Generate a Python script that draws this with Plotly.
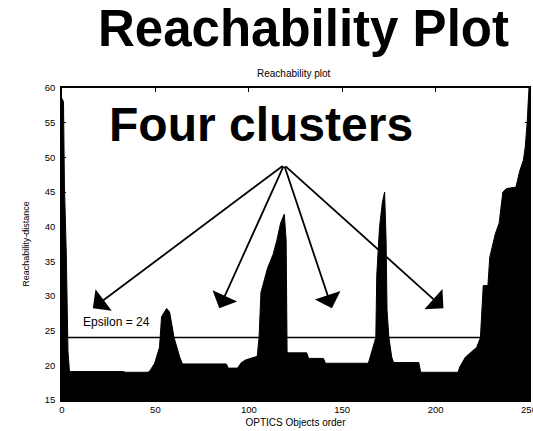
import plotly.graph_objects as go

# OPTICS ordering breakpoints (object order) and reachability distance
order = [0, 0.8, 1.3, 2.3, 3.2, 4, 33, 34, 46, 47, 49.6, 52.2, 53.3, 56, 57.6, 60, 63, 64.5,
         88, 89, 94, 96, 98.5, 104.5, 105.5, 106.5, 110, 113, 115, 117, 119, 120, 120.5, 121,
         131, 132, 140, 141, 164, 165, 168, 168.5, 170, 171.5, 172.7, 173.5, 174, 175, 176.5,
         177.5, 191, 192, 212, 213, 216, 219, 222, 224, 225.5, 228, 229, 232, 234, 236, 238,
         243, 245, 247, 248, 249, 250]
reach = [58.5, 58, 46, 36, 22, 19.1, 19.1, 19.0, 19.0, 19.2, 20.3, 22.6, 27, 28.2, 27.7, 24, 21.2, 20.2,
         20.2, 19.6, 19.6, 20.4, 20.8, 21.3, 24, 30.5, 34, 36, 38, 40.5, 41.8, 38, 22, 21.8,
         21.8, 21, 21, 20.3, 20.3, 21.2, 24, 33, 40, 43.5, 45, 38, 28, 24, 21.2,
         20.4, 20.4, 19.0, 19.0, 19.8, 21.2, 21.9, 22.6, 24, 31.5, 31.5, 35.6, 39, 40.5, 45, 45.5,
         45.7, 48, 49.6, 51.5, 55, 60]

epsilon = 24
x_ticks = [0, 50, 100, 150, 200, 250]
y_ticks = [15, 20, 25, 30, 35, 40, 45, 50, 55, 60]

# arrows from the "Four clusters" label down to each cluster valley
arrow_from = (118.9, 48.9)
arrow_to_x = [16.5, 84.2, 144.5, 204.2]
arrow_to_y = [28.25, 28.25, 28.25, 28.25]

FONT = "Liberation Sans, Arial, sans-serif"

fig = go.Figure()
fig.add_trace(go.Scatter(
    x=order, y=reach, mode="lines", fill="tozeroy",
    line=dict(color="black", width=1), fillcolor="black",
    showlegend=False, hoverinfo="skip",
))
fig.add_trace(go.Scatter(
    x=[0, 250], y=[epsilon, epsilon], mode="lines",
    line=dict(color="black", width=1.5), showlegend=False, hoverinfo="skip",
))

annotations = [
    dict(text=f"Epsilon = {epsilon}", x=29, y=26.3, xref="x", yref="y", showarrow=False,
         font=dict(family=FONT, size=12, color="black")),
    dict(text="<b>Four clusters</b>", x=106.5, y=54.8, xref="x", yref="y", showarrow=False,
         font=dict(family=FONT, size=48, color="black")),
    dict(text="<b>Reachability Plot</b>", x=0.518, y=1.19, xref="paper", yref="paper",
         showarrow=False, yanchor="middle",
         font=dict(family=FONT, size=51, color="black")),
    dict(text="Reachability plot", x=0.497, y=1.048, xref="paper", yref="paper",
         showarrow=False, yanchor="middle",
         font=dict(family=FONT, size=10, color="black")),
]
for tx, ty in zip(arrow_to_x, arrow_to_y):
    annotations.append(dict(
        x=tx, y=ty, ax=arrow_from[0], ay=arrow_from[1], xref="x", yref="y",
        axref="x", ayref="y", text="", showarrow=True, arrowhead=1,
        arrowsize=2.5, arrowwidth=1.8, arrowcolor="black", standoff=0,
    ))

fig.update_layout(
    width=533, height=431,
    margin=dict(l=62, r=2, t=88, b=31),
    paper_bgcolor="white", plot_bgcolor="white",
    annotations=annotations,
    xaxis=dict(
        range=[0, 250], tickvals=x_ticks, ticks="inside", ticklen=4, tickcolor="black",
        showline=True, linecolor="black", linewidth=1.5, mirror="ticks",
        showgrid=False, zeroline=False, ticklabeloverflow="allow", automargin=False,
        tickfont=dict(family=FONT, size=9.5, color="black"),
        title=dict(text="OPTICS Objects order", font=dict(family=FONT, size=10, color="black"),
                   standoff=5),
    ),
    yaxis=dict(
        range=[15, 60], tickvals=y_ticks, ticks="inside", ticklen=4, tickcolor="black",
        showline=True, linecolor="black", linewidth=1.5, mirror="ticks",
        showgrid=False, zeroline=False, ticklabelstandoff=3,
        tickfont=dict(family=FONT, size=9.5, color="black"),
        title=dict(text="Reachability-distance", font=dict(family=FONT, size=9, color="black"),
                   standoff=14),
    ),
)

fig.write_html("out.html")
